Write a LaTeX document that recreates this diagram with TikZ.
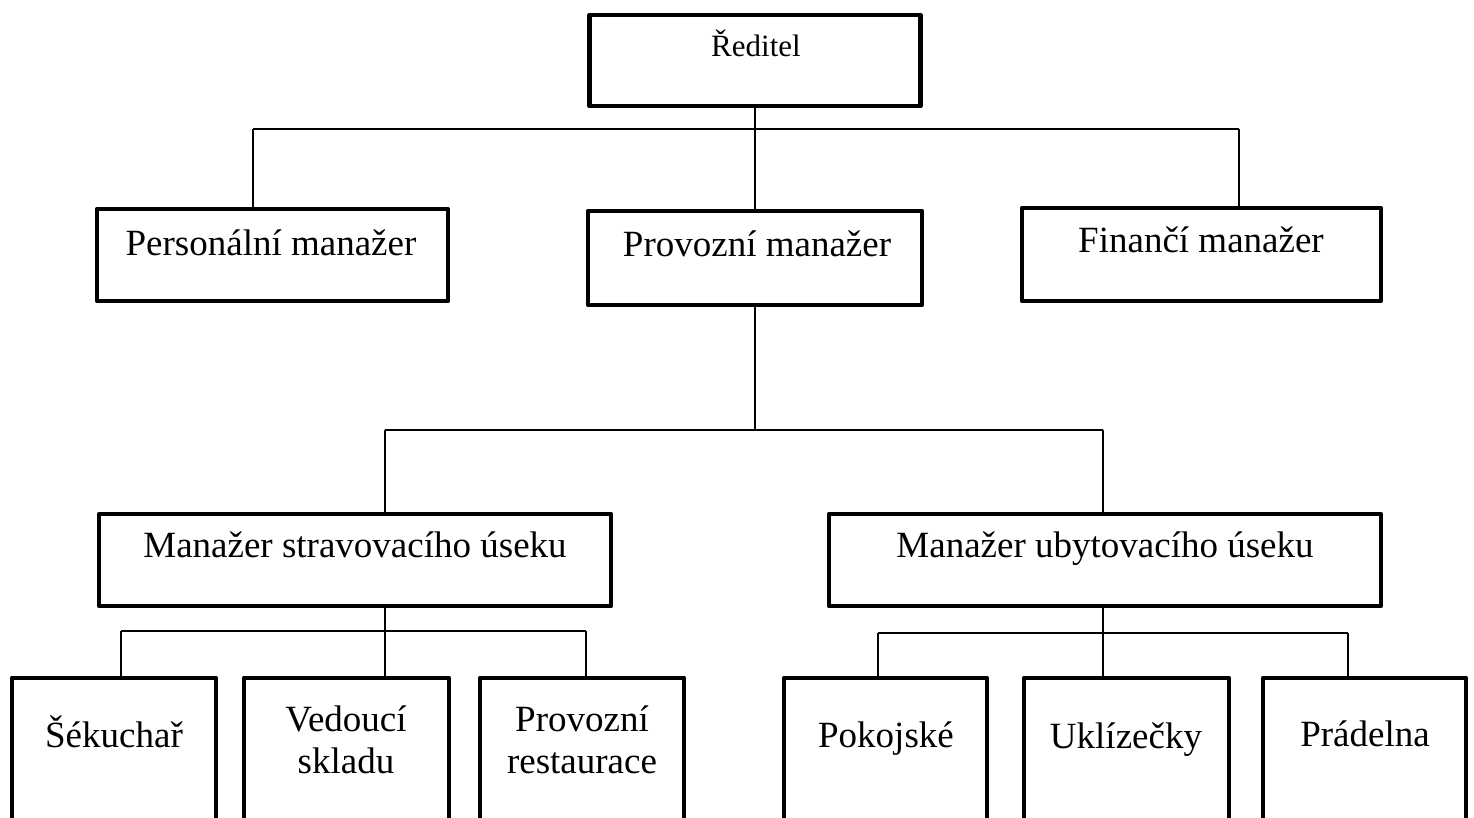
\documentclass[tikz,border=0pt]{standalone}
\usepackage{fontspec}
\setmainfont{Liberation Serif}
\begin{document}
\begin{tikzpicture}[x=0.5pt,y=-0.5pt,
  box/.style={draw, line width=2.3pt, line join=round, inner sep=0pt, outer sep=0pt},
  conn/.style={line width=0.9pt},
  lbl/.style={inner sep=0pt, anchor=base, align=center, font=\fontsize{18.5}{21}\selectfont},
  smalllbl/.style={inner sep=0pt, anchor=base, font=\fontsize{15.5}{18}\selectfont}]
\useasboundingbox (0,0) rectangle (1474,818);
\clip (0,0) rectangle (1474,818);
% boxes
\node[box, minimum width=165.5pt, minimum height=45.5pt] (red) at (755,60.5) {};
\node[box, minimum width=175.5pt, minimum height=46pt] (pers) at (272.5,255) {};
\node[box, minimum width=167pt, minimum height=47pt] (prov) at (755,258) {};
\node[box, minimum width=179.5pt, minimum height=46.5pt] (fin) at (1201.5,254.5) {};
\node[box, minimum width=256pt, minimum height=46pt] (strav) at (355,560) {};
\node[box, minimum width=276pt, minimum height=46pt] (ubyt) at (1105,560) {};
\node[box, minimum width=102pt, minimum height=110pt] (sek) at (114,788) {};
\node[box, minimum width=102.5pt, minimum height=110pt] (ved) at (346.5,788) {};
\node[box, minimum width=102pt, minimum height=110pt] (rest) at (582,788) {};
\node[box, minimum width=101.5pt, minimum height=110pt] (pok) at (885.5,788) {};
\node[box, minimum width=102.5pt, minimum height=110pt] (ukl) at (1126.5,788) {};
\node[box, minimum width=101.5pt, minimum height=110pt] (prad) at (1364.5,788) {};
% labels
\node[smalllbl] (tred) at (756,57) {Ředitel};
\node[lbl] (tpers) at (271,256) {Personální manažer};
\node[lbl] (tprov) at (757,257) {Provozní manažer};
\node[lbl] (tfin) at (1201,253) {Finančí manažer};
\node[lbl] (tstrav) at (355,557) {Manažer stravovacího úseku};
\node[lbl] (tubyt) at (1105,557) {Manažer ubytovacího úseku};
\node[lbl] (tsek) at (114,747) {Šékuchař};
\node[lbl] (tved) at (346,773) {Vedoucí\\skladu};
\node[lbl] (trest) at (582,773) {Provozní\\restaurace};
\node[lbl] (tpok) at (886,747) {Pokojské};
\node[lbl] (tukl) at (1126,748) {Uklízečky};
\node[lbl] (tprad) at (1365,746) {Prádelna};
% connectors level 1
\coordinate (t1) at (253,129);
\coordinate (t2) at (1239,129);
\draw[conn] (t1) -- (t2);
\draw[conn] (red.south) -- (prov.north);
\draw[conn] (t1) -- (t1 |- pers.north);
\draw[conn] (t2) -- (t2 |- fin.north);
% level 2
\coordinate (m1) at (385,430);
\coordinate (m2) at (1103,430);
\draw[conn] (m1) -- (m2);
\draw[conn] (prov.south) -- (prov.south |- m1);
\draw[conn] (m1) -- (m1 |- strav.north);
\draw[conn] (m2) -- (m2 |- ubyt.north);
% level 3 left
\coordinate (s1) at (121,631);
\coordinate (s2) at (586,631);
\draw[conn] (m1 |- strav.south) -- (m1 |- s1);
\draw[conn] (s1) -- (s2);
\draw[conn] (s1) -- (s1 |- sek.north);
\draw[conn] (m1 |- s1) -- (m1 |- ved.north);
\draw[conn] (s2) -- (s2 |- rest.north);
% level 3 right
\coordinate (u1) at (878,633);
\coordinate (u2) at (1348,633);
\draw[conn] (m2 |- ubyt.south) -- (m2 |- u1);
\draw[conn] (u1) -- (u2);
\draw[conn] (u1) -- (u1 |- pok.north);
\draw[conn] (m2 |- u1) -- (m2 |- ukl.north);
\draw[conn] (u2) -- (u2 |- prad.north);
\end{tikzpicture}
\end{document}
